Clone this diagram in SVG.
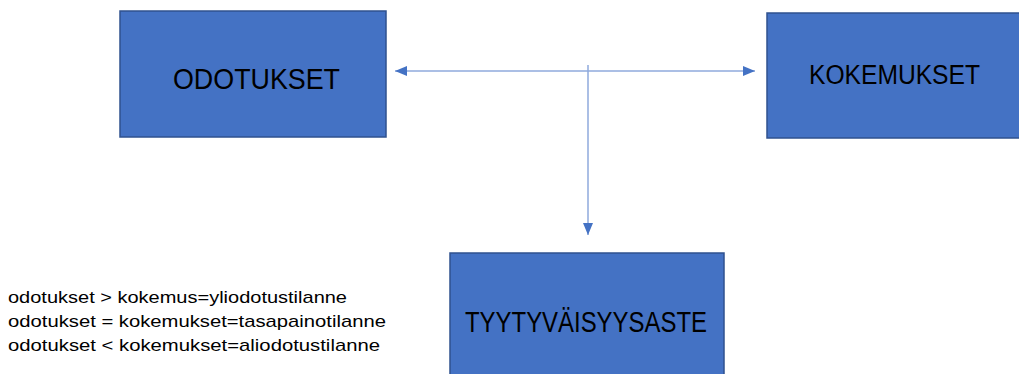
<svg xmlns="http://www.w3.org/2000/svg" width="1019" height="374" viewBox="0 0 1019 374">
<style>
.box{fill:#4472c4;stroke:#2f528f;stroke-width:1.5}
.lbl{font-family:"Liberation Sans",Arial,sans-serif;fill:#000}
.conn{stroke:#8faadc;stroke-width:1.5;fill:none}
.leg{font-family:"Liberation Sans",Arial,sans-serif;font-size:17px;fill:#000}
</style>
<defs>
<marker id="ah" viewBox="0 0 12 10" refX="12" refY="5" markerWidth="12" markerHeight="10" markerUnits="userSpaceOnUse" orient="auto-start-reverse">
<path d="M0,0 L12,5 L0,10 Z" fill="#4472c4"/>
</marker>
</defs>
<rect width="1019" height="374" fill="#fff"/>
<g id="odotukset">
<rect class="box" x="120" y="11" width="266" height="126"/>
<text class="lbl" x="173" y="89" font-size="30" textLength="167" lengthAdjust="spacingAndGlyphs">ODOTUKSET</text>
</g>
<g id="kokemukset">
<rect class="box" x="767" y="13" width="260" height="125"/>
<text class="lbl" x="809" y="84" font-size="27" textLength="171" lengthAdjust="spacingAndGlyphs">KOKEMUKSET</text>
</g>
<g id="tyytyvaisyysaste">
<rect class="box" x="450" y="253" width="274" height="130"/>
<text class="lbl" x="465" y="332" font-size="29" textLength="242" lengthAdjust="spacingAndGlyphs">TYYTYVÄISYYSASTE</text>
</g>
<g id="connectors">
<line class="conn" x1="395" y1="71" x2="755" y2="71" marker-start="url(#ah)" marker-end="url(#ah)"/>
<line class="conn" x1="588" y1="65" x2="588" y2="235" marker-end="url(#ah)"/>
</g>
<g id="legend">
<text class="leg" x="8" y="303" textLength="339" lengthAdjust="spacingAndGlyphs">odotukset &gt; kokemus=yliodotustilanne</text>
<text class="leg" x="8" y="327" textLength="378" lengthAdjust="spacingAndGlyphs">odotukset = kokemukset=tasapainotilanne</text>
<text class="leg" x="8" y="351" textLength="372" lengthAdjust="spacingAndGlyphs">odotukset &lt; kokemukset=aliodotustilanne</text>
</g>
</svg>
